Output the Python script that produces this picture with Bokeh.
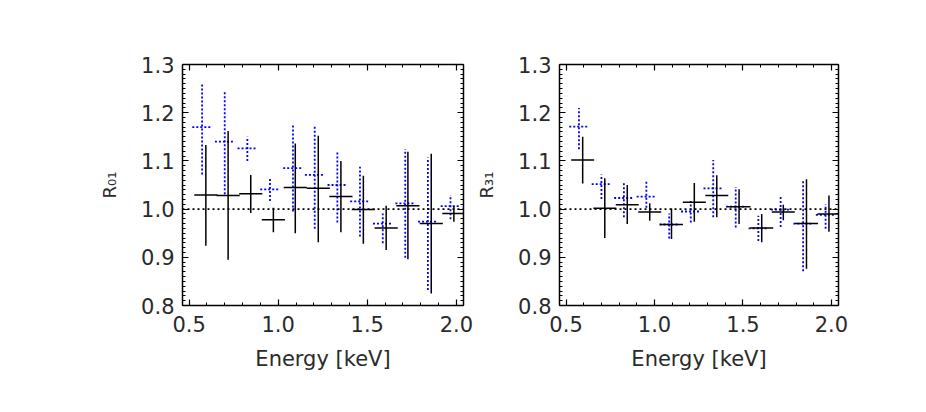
from bokeh.plotting import figure
from bokeh.models import (Range1d, LinearAxis, ColumnDataSource,
                          SingleIntervalTicker, CustomJSTickFormatter, Span,
                          PrintfTickFormatter)
from bokeh.layouts import row
from bokeh.embed import file_html
from bokeh.resources import INLINE

# ---------------- data ----------------
# energy bin centres [keV]
energy_black = [0.594, 0.719, 0.846, 0.973, 1.096, 1.225, 1.352, 1.478, 1.606, 1.728, 1.859, 1.986]
energy_blue = [0.573, 0.700, 0.827, 0.954, 1.083, 1.205, 1.332, 1.459, 1.587, 1.713, 1.840, 1.967]
bin_halfwidth_black = 0.065
bin_halfwidth_blue = 0.055

# R01 panel
r01_black = [1.029, 1.028, 1.032, 0.978, 1.045, 1.043, 1.026, 0.999, 0.961, 1.007, 0.970, 0.991]
r01_black_hi = [1.133, 1.162, 1.071, 1.003, 1.136, 1.152, 1.100, 1.069, 1.007, 1.119, 1.115, 1.007]
r01_black_lo = [0.924, 0.895, 0.992, 0.952, 0.950, 0.931, 0.952, 0.928, 0.915, 0.896, 0.825, 0.974]
r01_blue = [1.170, 1.140, 1.126, 1.041, 1.085, 1.071, 1.050, 1.016, 0.970, 1.012, 0.974, 1.006]
r01_blue_hi = [1.262, 1.245, 1.150, 1.064, 1.174, 1.174, 1.119, 1.088, 0.991, 1.124, 1.107, 1.029]
r01_blue_lo = [1.072, 1.031, 1.100, 1.017, 0.995, 0.959, 0.972, 0.943, 0.929, 0.899, 0.832, 0.979]

# R31 panel
r31_black = [1.102, 1.002, 1.009, 0.994, 0.968, 1.014, 1.028, 1.005, 0.961, 0.994, 0.970, 0.990]
r31_black_hi = [1.150, 1.064, 1.050, 1.012, 1.001, 1.054, 1.070, 1.041, 0.990, 1.009, 1.062, 1.028]
r31_black_lo = [1.053, 0.940, 0.969, 0.976, 0.938, 0.974, 0.983, 0.969, 0.931, 0.977, 0.876, 0.953]
r31_blue = [1.171, 1.052, 1.023, 1.026, 0.968, 0.995, 1.043, 1.005, 0.960, 0.999, 0.970, 0.988]
r31_blue_hi = [1.210, 1.072, 1.057, 1.057, 0.991, 1.017, 1.102, 1.046, 0.986, 1.026, 1.062, 1.010]
r31_blue_lo = [1.124, 1.021, 0.983, 1.003, 0.939, 0.972, 0.983, 0.962, 0.934, 0.963, 0.871, 0.959]

x_range = (0.463, 2.04)
y_range = (0.8, 1.3)

FONT = "DejaVu Sans"
TICK_FS = "21px"
XLAB_FS = "21px"
YLAB_FS = "18px"
TXT_COL = "#2a2a2a"


def style_axis(ax, show_labels=True):
    ax.axis_line_width = 1.5
    ax.axis_line_color = "black"
    ax.major_tick_in = 6
    ax.major_tick_out = 0
    ax.minor_tick_in = 3
    ax.minor_tick_out = 0
    ax.major_tick_line_width = 1.2
    ax.minor_tick_line_width = 1.0
    ax.major_tick_line_color = "black"
    ax.minor_tick_line_color = "black"
    ax.major_label_text_font = FONT
    ax.major_label_text_font_size = TICK_FS
    ax.major_label_text_color = TXT_COL
    ax.axis_label_text_font = FONT
    ax.axis_label_text_font_style = "normal"
    ax.axis_label_text_color = TXT_COL
    if show_labels:
        ax.formatter = PrintfTickFormatter(format="%.1f")
    else:
        ax.formatter = CustomJSTickFormatter(code="return ''")


def make_panel(ylabel, e_k, r_k, hi_k, lo_k, e_b, r_b, hi_b, lo_b,
               left, right):
    top_b, frame_h, bot_b = 64, 241, 80
    p = figure(width=left + 281 + right, height=top_b + frame_h + bot_b,
               min_border_left=left, min_border_right=right,
               min_border_top=top_b, min_border_bottom=bot_b,
               x_range=Range1d(*x_range), y_range=Range1d(*y_range),
               output_backend="svg", toolbar_location=None,
               x_axis_label="Energy [keV]", y_axis_label=ylabel)
    p.grid.visible = False
    p.outline_line_color = None
    p.background_fill_color = "white"
    p.border_fill_color = "white"

    p.xaxis.ticker = SingleIntervalTicker(interval=0.5, num_minor_ticks=5)
    p.yaxis.ticker = SingleIntervalTicker(interval=0.1, num_minor_ticks=10)
    for ax in p.xaxis:
        style_axis(ax)
        ax.major_label_standoff = 10
        ax.axis_label_standoff = 12
        ax.axis_label_text_font_size = XLAB_FS
    for ax in p.yaxis:
        style_axis(ax)
        ax.major_label_standoff = 8
        ax.axis_label_standoff = 18
        ax.axis_label_text_font_size = YLAB_FS

    top = LinearAxis(ticker=SingleIntervalTicker(interval=0.5, num_minor_ticks=5))
    style_axis(top, show_labels=False)
    p.add_layout(top, "above")
    rgt = LinearAxis(ticker=SingleIntervalTicker(interval=0.1, num_minor_ticks=10))
    style_axis(rgt, show_labels=False)
    p.add_layout(rgt, "right")

    # reference line at 1
    p.add_layout(Span(location=1.0, dimension="width", line_color="black",
                      line_width=1.6, line_dash="2 3"))

    src_b = ColumnDataSource(dict(
        x=e_b, y=r_b, hi=hi_b, lo=lo_b,
        x0=[e - bin_halfwidth_blue for e in e_b],
        x1=[e + bin_halfwidth_blue for e in e_b]))
    p.segment("x0", "y", "x1", "y", source=src_b, line_color="#0000ff",
              line_width=1.8, line_dash="2 2")
    p.segment("x", "lo", "x", "hi", source=src_b, line_color="#0000ff",
              line_width=1.8, line_dash="2 2")

    src_k = ColumnDataSource(dict(
        x=e_k, y=r_k, hi=hi_k, lo=lo_k,
        x0=[e - bin_halfwidth_black for e in e_k],
        x1=[e + bin_halfwidth_black for e in e_k]))
    p.segment("x0", "y", "x1", "y", source=src_k, line_color="black", line_width=1.5)
    p.segment("x", "lo", "x", "hi", source=src_k, line_color="black", line_width=1.5)
    return p


p1 = make_panel("R₀₁", energy_black, r01_black, r01_black_hi, r01_black_lo,
                energy_blue, r01_blue, r01_blue_hi, r01_blue_lo, left=182, right=10)
p2 = make_panel("R₃₁", energy_black, r31_black, r31_black_hi, r31_black_lo,
                energy_blue, r31_blue, r31_blue_hi, r31_blue_lo, left=84, right=40)

layout = row(p1, p2)
open("out.html", "w").write(file_html(layout, INLINE))
